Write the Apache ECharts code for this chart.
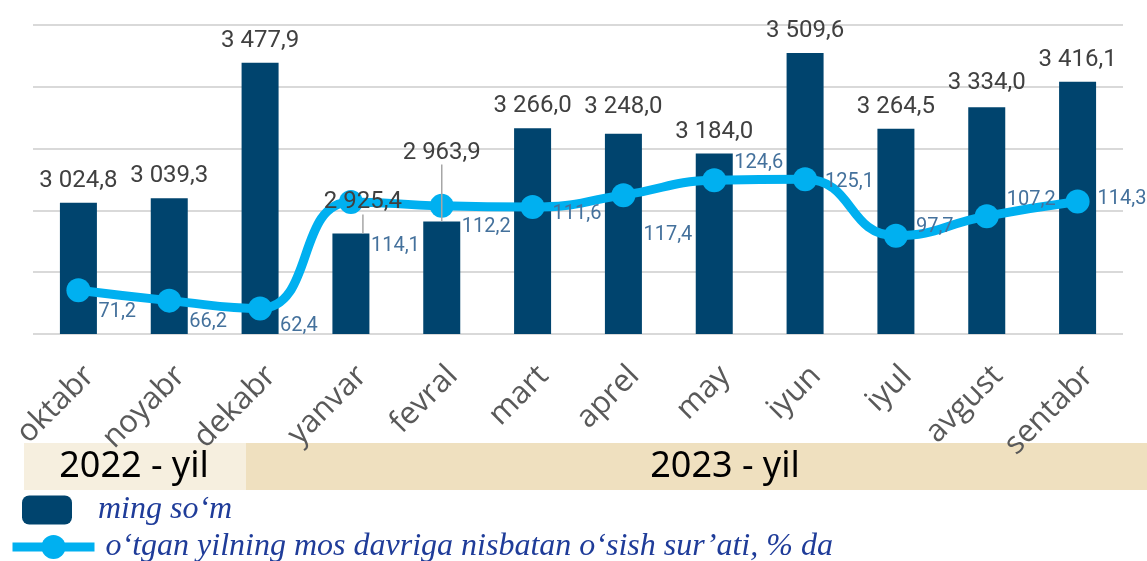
<!DOCTYPE html>
<html>
<head>
<meta charset="utf-8">
<script src="https://cdn.jsdelivr.net/npm/echarts@6/dist/echarts.min.js"></script>
<style>
  html, body { margin: 0; padding: 0; background: #fff; }
  #chart { width: 1147px; height: 561px; }
</style>
</head>
<body>
<div id="chart"></div>
<script>
const months = ['oktabr', 'noyabr', 'dekabr', 'yanvar', 'fevral', 'mart', 'aprel', 'may', 'iyun', 'iyul', 'avgust', 'sentabr'];
const wages = [3024.8, 3039.3, 3477.9, 2925.4, 2963.9, 3266.0, 3248.0, 3184.0, 3509.6, 3264.5, 3334.0, 3416.1];
const growth = [71.2, 66.2, 62.4, 114.1, 112.2, 111.6, 117.4, 124.6, 125.1, 97.7, 107.2, 114.3];
const years = ['2022 - yil', '2023 - yil'];
const seriesNames = ['ming so‘m', 'o‘tgan yilning mos davriga nisbatan o‘sish sur’ati, % da'];

// label nudges in px (placement only, not data)
const barLabelShift = [[0, 0], [0, 0], [0, 0], [12, -9], [0, -47], [0, 0], [0, -5], [0, 0], [0, 0], [0, 0], [0, -2], [0, 0]];
const barLeaders = [3, 4];
const lineLabelDy = [22, 21, 18, 44, 21, 7, 40, -17, 3, -9, -16, -3];

const barColor = '#00446e';
const lineColor = '#00b0f0';
const gridColor = '#d9d9d9';
const numFont = 'Roboto, sans-serif';
const legendText = {
    fontFamily: '"Liberation Serif", serif',
    fontStyle: 'italic',
    fontSize: 32,
    color: '#1f3c99'
};

function fmtThousands(v) {
    const parts = v.toFixed(1).split('.');
    return parts[0].replace(/\B(?=(\d{3})+(?!\d))/g, ' ') + ',' + parts[1];
}

const chart = echarts.init(document.getElementById('chart'));

const option = {
    backgroundColor: '#fff',
    animation: false,
    grid: { left: 33, right: 24, top: 25, bottom: 227, containLabel: false },
    legend: [
        {
            data: [seriesNames[0]],
            left: 22,
            top: 494,
            padding: 0,
            itemWidth: 50,
            itemHeight: 29,
            icon: 'roundRect',
            textStyle: Object.assign({ padding: [0, 0, 0, 21] }, legendText)
        },
        {
            data: [seriesNames[1]],
            left: 8,
            top: 531,
            padding: 0,
            itemWidth: 82,
            itemHeight: 30,
            lineStyle: { width: 9 },
            textStyle: Object.assign({ padding: [0, 0, 0, 6] }, legendText)
        }
    ],
    xAxis: {
        type: 'category',
        data: months,
        axisLine: { show: false },
        axisTick: { show: false },
        axisLabel: {
            interval: 0,
            rotate: 45,
            margin: 26,
            verticalAlign: 'top',
            fontFamily: '"Open Sans", sans-serif',
            fontSize: 31,
            color: '#595959'
        }
    },
    yAxis: [
        {
            type: 'value',
            min: 2600,
            max: 3600,
            interval: 200,
            axisLabel: { show: false },
            axisLine: { show: false },
            axisTick: { show: false },
            splitLine: { lineStyle: { color: gridColor, width: 2 } }
        },
        {
            type: 'value',
            min: 50,
            max: 200,
            interval: 30,
            axisLabel: { show: false },
            axisLine: { show: false },
            axisTick: { show: false },
            splitLine: { show: false }
        }
    ],
    graphic: [
        { type: 'rect', left: 24, top: 443, shape: { width: 222, height: 47 }, style: { fill: '#f6efdf' }, silent: true },
        { type: 'rect', left: 246, top: 443, shape: { width: 901, height: 47 }, style: { fill: '#efe0bf' }, silent: true },
        {
            type: 'text', x: 134, y: 467,
            style: { text: years[0], fill: '#000', font: '36px "Noto Sans", sans-serif', align: 'center', verticalAlign: 'middle' }
        },
        {
            type: 'text', x: 725, y: 467,
            style: { text: years[1], fill: '#000', font: '36px "Noto Sans", sans-serif', align: 'center', verticalAlign: 'middle' }
        }
    ],
    series: [
        {
            name: seriesNames[0],
            type: 'bar',
            data: wages,
            barWidth: 37,
            barGap: '-100%',
            itemStyle: { color: barColor },
            z: 2
        },
        {
            name: seriesNames[1],
            type: 'line',
            yAxisIndex: 1,
            data: growth,
            smooth: true,
            symbol: 'circle',
            symbolSize: 24,
            lineStyle: { width: 9, color: lineColor },
            itemStyle: { color: lineColor },
            z: 3,
            label: {
                show: true,
                position: 'right',
                distance: 8,
                formatter: (p) => p.value.toFixed(1).replace('.', ','),
                fontFamily: numFont,
                fontSize: 20,
                color: '#44719c'
            },
            labelLayout: (p) => ({ dy: lineLabelDy[p.dataIndex] })
        },
        {
            // value labels above the bars, drawn over the line
            name: 'labels',
            type: 'bar',
            data: wages.map((v, i) => ({ value: v, labelLine: { show: barLeaders.includes(i) } })),
            barWidth: 37,
            barGap: '-100%',
            itemStyle: { color: 'rgba(0,0,0,0)' },
            silent: true,
            z: 5,
            label: {
                show: true,
                position: 'top',
                distance: 10,
                formatter: (p) => fmtThousands(p.value),
                fontFamily: numFont,
                fontSize: 24,
                color: '#404040'
            },
            labelLine: { lineStyle: { color: '#a6a6a6', width: 1.5 } },
            labelLayout: (p) => ({ dx: barLabelShift[p.dataIndex][0], dy: barLabelShift[p.dataIndex][1] })
        }
    ]
};

chart.setOption(option);
</script>
</body>
</html>
